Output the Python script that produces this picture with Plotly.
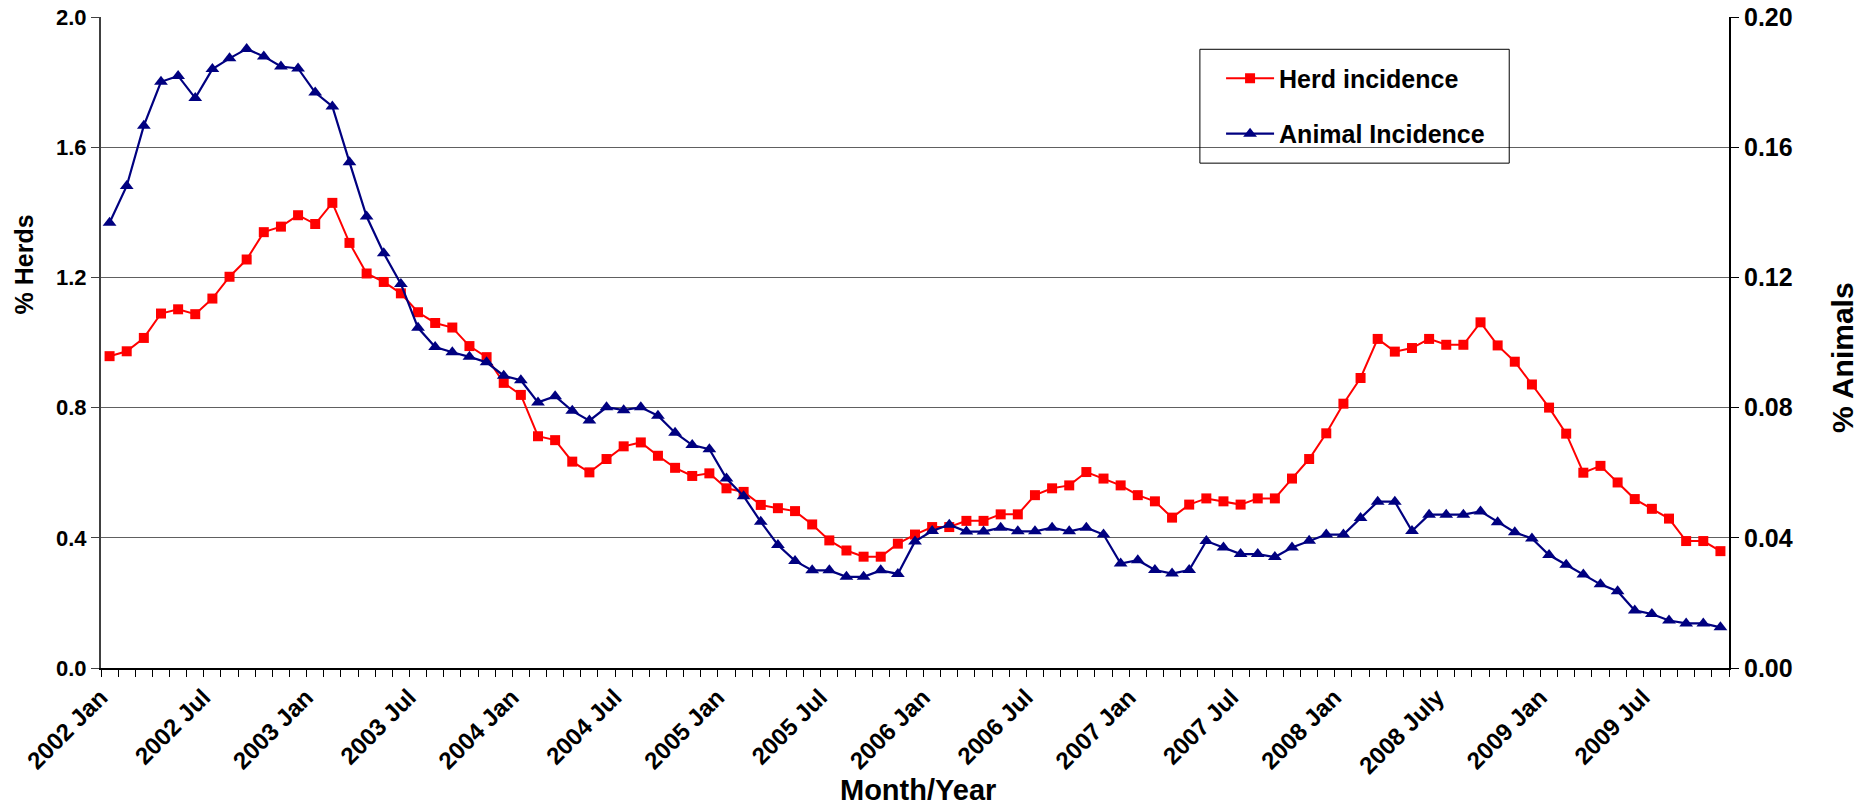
import plotly.graph_objects as go

# Months Jan 2002 .. Nov 2009
month_names = ["Jan", "Feb", "Mar", "Apr", "May", "Jun", "Jul", "Aug", "Sep", "Oct", "Nov", "Dec"]
years = [2002, 2003, 2004, 2005, 2006, 2007, 2008, 2009]

herd_incidence = [
    0.958, 0.973, 1.014, 1.089, 1.102, 1.087, 1.135, 1.202, 1.255, 1.339, 1.356, 1.391,
    1.364, 1.429, 1.306, 1.212, 1.186, 1.151, 1.093, 1.060, 1.046, 0.989, 0.955, 0.876,
    0.839, 0.712, 0.700, 0.634, 0.601, 0.642, 0.681, 0.693, 0.652, 0.615, 0.590, 0.598,
    0.552, 0.541, 0.501, 0.491, 0.482, 0.441, 0.392, 0.361, 0.342, 0.342, 0.382, 0.410,
    0.433, 0.433, 0.452, 0.452, 0.472, 0.472, 0.531, 0.552, 0.561, 0.602, 0.582, 0.561,
    0.531, 0.512, 0.462, 0.502, 0.521, 0.512, 0.502, 0.521, 0.521, 0.582, 0.642, 0.721,
    0.812, 0.891, 1.011, 0.972, 0.983, 1.011, 0.993, 0.993, 1.062, 0.991, 0.941, 0.871,
    0.800, 0.720, 0.600, 0.621, 0.570, 0.519, 0.489, 0.459, 0.390, 0.390, 0.359,
]

animal_incidence = [
    0.1368, 0.1481, 0.1666, 0.1801, 0.1819, 0.1751, 0.1840, 0.1873, 0.1902, 0.1879, 0.1848, 0.1842,
    0.1768, 0.1725, 0.1554, 0.1387, 0.1274, 0.1180, 0.1045, 0.0986, 0.0970, 0.0956, 0.0939, 0.0898,
    0.0884, 0.0816, 0.0835, 0.0790, 0.0760, 0.0801, 0.0792, 0.0801, 0.0775, 0.0723, 0.0685, 0.0672,
    0.0582, 0.0528, 0.0449, 0.0378, 0.0329, 0.0300, 0.0300, 0.0280, 0.0280, 0.0300, 0.0289, 0.0389,
    0.0421, 0.0440, 0.0419, 0.0419, 0.0431, 0.0420, 0.0420, 0.0431, 0.0420, 0.0431, 0.0410, 0.0321,
    0.0331, 0.0301, 0.0290, 0.0301, 0.0390, 0.0370, 0.0350, 0.0350, 0.0341, 0.0370, 0.0391, 0.0410,
    0.0410, 0.0461, 0.0511, 0.0511, 0.0421, 0.0471, 0.0471, 0.0471, 0.0481, 0.0448, 0.0417, 0.0398,
    0.0347, 0.0317, 0.0287, 0.0257, 0.0236, 0.0177, 0.0166, 0.0146, 0.0137, 0.0137, 0.0125,
]

tick_labels = ["2002 Jan", "2002 Jul", "2003 Jan", "2003 Jul", "2004 Jan", "2004 Jul",
               "2005 Jan", "2005 Jul", "2006 Jan", "2006 Jul", "2007 Jan", "2007 Jul",
               "2008 Jan", "2008 July", "2009 Jan", "2009 Jul"]

months = [f"{y} {m}" for y in years for m in month_names][:len(herd_incidence)]
x_idx = list(range(len(months)))
tick_pos = x_idx[::6]

FONT = "Arial, Liberation Sans, sans-serif"
RED = "#FF0000"
NAVY = "#000080"

fig = go.Figure()
fig.add_trace(go.Scatter(
    x=x_idx, y=herd_incidence, name="Herd incidence", mode="lines+markers",
    customdata=months, legendgroup="herd",
    line=dict(color=RED, width=2), marker=dict(symbol="square", size=10, color=RED),
))
fig.add_trace(go.Scatter(
    x=x_idx, y=animal_incidence, name="Animal Incidence", mode="lines+markers", yaxis="y2",
    customdata=months, legendgroup="animal",
    line=dict(color=NAVY, width=2.2), marker=dict(symbol="triangle-up", size=12, color=NAVY),
))

xr = [-0.5, len(months) - 0.5]


def bold(size):
    return dict(family=FONT, size=size, color="black", weight="bold")


fig.update_layout(
    width=1865, height=808,
    margin=dict(l=101, r=136, t=17, b=140, autoexpand=False),
    paper_bgcolor="white", plot_bgcolor="white",
    font=dict(family=FONT, color="black"),
    showlegend=True,
    legend=dict(
        x=0.688, y=0.941, xanchor="left", yanchor="top",
        bgcolor="rgba(0,0,0,0)", borderwidth=0,
        font=bold(25), tracegroupgap=20, itemwidth=48,
    ),
    shapes=[dict(type="rect", xref="paper", yref="paper",
                 x0=0.675, x1=0.865, y0=0.7755, y1=0.9504,
                 line=dict(color="black", width=1), fillcolor="rgba(0,0,0,0)",
                 layer="above")],
    annotations=[
        dict(text="Month/Year", xref="paper", yref="paper", x=0.502, y=-0.1868,
             xanchor="center", yanchor="middle", showarrow=False, font=bold(29)),
        dict(text="% Herds", xref="paper", yref="paper", x=-0.0473, y=0.62,
             xanchor="center", yanchor="middle", showarrow=False, textangle=-90,
             font=bold(25)),
        dict(text="% Animals", xref="paper", yref="paper", x=1.0694, y=0.4777,
             xanchor="center", yanchor="middle", showarrow=False, textangle=-90,
             font=bold(30)),
    ],
    xaxis=dict(
        range=xr, tickmode="array", tickvals=tick_pos, ticktext=tick_labels,
        tickangle=-45, tickfont=bold(24), ticks="", showgrid=False, zeroline=False,
        showline=True, linecolor="black", linewidth=1.5, automargin=False,
        ticklabelstandoff=4, ticklabelshift=-9,
        minor=dict(tickmode="linear", tick0=-0.5, dtick=1, ticks="outside",
                   ticklen=7, tickcolor="black", tickwidth=1, showgrid=False),
    ),
    xaxis2=dict(
        range=xr, overlaying="x", anchor="y", side="bottom", showticklabels=False,
        showgrid=False, zeroline=False, showline=False, tickmode="linear", tick0=-0.5,
        dtick=1, ticks="inside", ticklen=7, tickcolor="black", tickwidth=1,
        automargin=False,
    ),
    yaxis=dict(
        range=[0, 2.0], tickmode="linear", tick0=0, dtick=0.4, tickformat=".1f",
        tickfont=bold(22), ticks="outside", ticklen=8, tickcolor="#404040",
        showline=True, linecolor="#404040", linewidth=2, automargin=False,
        showgrid=True, gridcolor="#606060", gridwidth=1, zeroline=False,
    ),
    yaxis2=dict(
        range=[0, 0.2], tickmode="linear", tick0=0, dtick=0.04, tickformat=".2f",
        overlaying="y", side="right", anchor="x", automargin=False,
        tickfont=bold(25), ticks="outside", ticklen=8, tickcolor="black",
        showline=True, linecolor="black", linewidth=2,
        showgrid=False, zeroline=False,
    ),
    yaxis3=dict(
        range=[0, 2.0], overlaying="y", side="left", anchor="x", tickmode="linear",
        tick0=0, dtick=0.4, showticklabels=False, showgrid=False, zeroline=False,
        showline=False, ticks="inside", ticklen=7, tickcolor="#404040", automargin=False,
    ),
    yaxis4=dict(
        range=[0, 0.2], overlaying="y", side="right", anchor="x", tickmode="linear",
        tick0=0, dtick=0.04, showticklabels=False, showgrid=False, zeroline=False,
        showline=False, ticks="inside", ticklen=7, tickcolor="black", automargin=False,
    ),
)

fig.write_html(
    "out.html",
    config={"displayModeBar": False},
    post_script="document.body.style.margin='0';document.body.style.overflow='hidden';",
)
